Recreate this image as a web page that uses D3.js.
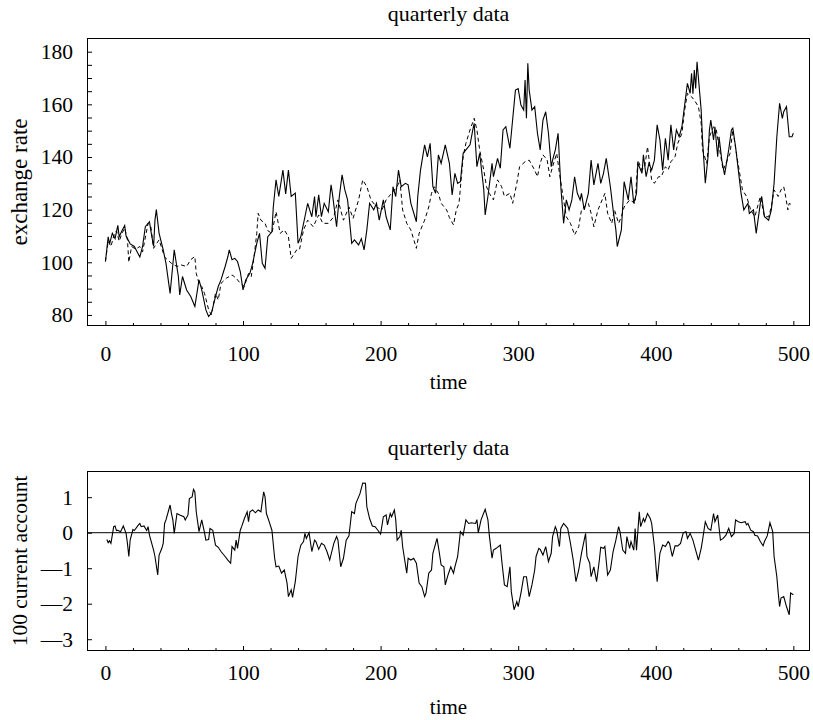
<!DOCTYPE html>
<html><head><meta charset="utf-8">
<script src="https://cdn.jsdelivr.net/npm/d3@7/dist/d3.min.js"></script>
<style>body{margin:0;background:#fff}svg text{font-family:"Liberation Serif","Times New Roman",serif;fill:#000}</style>
</head><body><svg id="c" width="813" height="720"></svg>
<script>
const titles = ["quarterly data", "quarterly data"];
const xLabel = "time";
const yLabels = ["exchange rate", "100 current account"];
const xTicks = [0, 100, 200, 300, 400, 500];
const fxTicks = [80, 100, 120, 140, 160, 180];
const caTicks = [1, 0, -1, -2, -3];
const caTickLabels = ["1", "0", "\u20141", "\u20142", "\u20143"];

// exchange rate, solid line (time, value)
const fxTime = [0,2,3,5,7,9,10,12,14,15,18,21,25,27,29,32,33,35,36,37,39,42,44,47,50,53,54,56,59,62,65,68,70,73,75,77,80,82,84,87,89,90,92,94,96,98,100,102,105,107,110,112,114,116,118,121,122,124,126,129,131,133,135,138,140,142,145,147,150,152,153,155,157,159,162,164,165,168,170,172,174,176,179,181,184,186,188,190,192,195,197,199,202,204,207,209,211,213,215,218,220,222,226,227,229,232,234,236,238,240,242,244,247,250,252,254,256,258,260,262,265,267,268,270,272,275,276,278,281,282,285,287,289,291,294,298,300,302,304,305,306,307,308,310,312,314,316,318,320,322,324,325,327,329,331,333,335,337,339,341,343,345,346,348,351,353,355,358,360,362,364,367,369,371,372,375,377,380,382,384,386,387,390,391,393,395,397,399,401,403,405,407,409,411,413,415,417,419,421,423,425,426,427,428,429,430,433,434,436,438,439,440,442,443,445,446,448,450,453,455,456,458,460,462,464,467,468,471,473,476,477,479,482,484,486,488,490,492,493,495,497,499,500];
const fxActual = [100.3,109.7,107,111,109,114,109.7,112,114,110,107,106,102,106,113.5,115.4,112,106,116,120,111,104.7,99.6,88.2,104.7,94.6,87.6,94.6,89.5,87,83.2,93.3,89.5,81.9,79.4,80.6,87,90.8,93.3,98.4,102.2,104.7,101,101.5,100.3,96.5,89.5,93.3,95.8,99.6,107.2,111,99.6,97.7,109.7,111.6,121,131.3,125,135,126,135,125,126.3,107.2,109.7,117.3,122.4,117.3,125,117.3,125.6,117.3,122.4,119.2,129.4,126,113.5,125,133.2,127.5,123.7,107.2,108.5,106.6,109,104.7,112.3,122.4,119.9,122.4,116,123.7,117.3,112.3,128.7,125,135,128.7,130,129.4,122.4,115.4,125,135,144.6,140,145.2,128.7,126.2,140.8,137.6,144.6,137.6,125.6,133.8,130,130.6,141.4,142.7,144.6,150.3,152.8,136.3,141.4,127.5,118,125,137.6,132.5,139.5,135.7,150.3,151.5,143.3,165.4,166,159.7,157.8,169.2,154.7,175.6,165.4,157.8,159.1,149,142.7,154,157.2,149,136.3,138.8,142.7,149,128.7,114.8,123.7,119.9,123.7,132.5,126.2,123.7,126.2,119.9,126.2,138.8,129.4,137.6,130,133.8,139.5,128.7,119.9,112.3,106,112.3,130.6,123.7,132.5,122.4,126.2,137.6,133.8,140.8,132.5,137.6,135,138.8,152.2,146.5,135,147.1,138.8,152.2,142.7,150.3,147.7,151.5,159.7,168,164.2,171.8,164,173,166,176.2,157.8,146.5,130,140.1,150.3,154,146.5,151.5,140.1,147.7,138.8,133.2,142.7,150.3,151,143.9,135,126.2,119.9,122.4,118.6,119.9,111,122.4,125,117.3,116,119.9,130,147.7,160.4,154.7,157.2,159.1,147.7,147.7,149];

// exchange rate, dashed line (time, value)
const fxDashTime = [0,2,4,6,8,10,12,14,16,17,19,22,25,27,31,33,35,37,39,43,48,52,55,59,62,65,66,68,70,72,75,77,80,82,84,88,92,95,98,101,104,106,108,110,111,113,116,118,121,124,127,130,133,135,139,141,144,147,151,155,158,162,166,169,173,177,180,184,187,190,193,197,201,204,208,212,214,216,219,222,226,228,232,235,237,239,242,244,248,250,253,255,257,260,262,265,268,270,272,275,277,279,282,285,288,290,294,296,299,301,305,308,312,314,316,318,321,323,325,328,330,333,335,338,341,344,346,348,351,353,355,358,360,363,365,368,370,373,375,377,381,385,387,390,392,394,397,399,402,404,407,409,411,414,416,419,421,423,426,428,431,433,434,437,439,442,444,446,449,451,454,456,459,461,463,466,469,472,476,479,482,484,486,489,491,493,494,496,497,499];
const fxDashed = [100.3,108,106,110,112,108,111,113,108.5,100,106,105,106,104,114.8,113.5,105.3,107,108.5,102,99.6,98.4,99,98.4,101,102.2,95.8,92,90.8,88.2,82,80,88.2,85.7,92,94,95.2,94,92,90.8,95.8,94.6,102,111,118.6,116,114.8,112,111,119.2,111,112.3,109.7,101.5,104.7,104.7,112.3,116,113.5,118,114.8,114.8,117.3,123.7,116,121,116.7,123.7,131.3,128.7,123.7,121,119.9,123.7,126.2,128.7,131.3,119.9,114.8,112.3,105.3,111,116,121,126.2,128.7,126.2,122.4,119.9,117,114.2,119.9,122.4,140.1,145.2,150.3,154.7,150.3,142.7,135,128.7,126.2,123.7,131.3,128.7,125,126.2,122.4,130,136.3,138.2,138.8,135,132.5,137.6,140.8,139,132.5,136.3,141.4,133.8,123.7,117.3,114.8,110.4,113.5,119.9,121,122.4,118.6,113.5,119.9,122.4,126.2,118.6,114.8,119.9,114.8,117.3,121,123.7,122.4,138.8,135,136.3,143.9,131.3,130,132.5,132.5,136.3,135,138.2,140.1,145.2,149,157.8,164.2,162.9,161.6,159.1,152.8,142.7,137.6,147.7,151.5,150.3,144,135,137.6,141.4,150.3,140.1,133.8,127.5,125,119.9,117.3,125,117.3,117.3,121,127.5,125,127.5,128.7,126.2,119.9,122.4,121.8];

// 100 x current account (time, value)
const caTime = [1,2,3,4,6,7,8,9,11,13,15,16,17,18,20,21,24,25,26,28,30,31,32,35,36,38,39,41,42,43,44,46,47,48,49,50,52,54,57,58,60,61,63,64,65,66,68,70,72,73,75,76,78,80,82,84,87,89,91,92,94,95,96,98,99,101,103,104,105,107,109,111,113,115,116,117,119,121,123,124,126,128,130,132,133,135,136,138,140,142,144,145,146,148,150,152,153,155,157,159,161,163,166,168,169,171,173,175,177,179,181,182,185,187,189,190,192,194,196,198,200,202,204,205,207,208,210,211,212,214,215,216,219,220,222,224,226,228,230,232,233,235,237,238,241,242,244,246,247,249,251,253,254,256,258,260,262,264,266,269,270,271,273,276,278,279,281,282,284,287,288,290,292,294,295,297,299,300,302,304,306,308,310,312,313,315,316,318,320,322,324,325,327,328,330,331,333,335,336,338,340,342,344,346,347,349,350,352,353,355,357,359,360,362,363,365,367,369,371,373,374,376,378,379,381,382,384,385,386,388,389,391,392,394,396,397,399,401,403,405,407,409,410,412,414,416,418,420,422,423,425,427,429,431,433,434,436,438,440,442,443,445,447,449,451,453,455,457,458,460,462,465,466,467,469,471,472,474,476,478,479,481,483,485,486,488,489,490,491,493,495,497,498,500];
const caValues = [-0.19,-0.28,-0.23,-0.3,0.17,0.19,0.06,0.07,0.03,0.19,-0.02,-0.3,-0.67,-0.2,0.09,0.06,0.22,0.26,0.17,0.19,0.06,0.17,-0.07,-0.49,-0.67,-1.19,-0.63,-0.44,-0.3,0.26,0.36,0.64,0.78,0.54,0.36,-0.02,0.54,0.5,0.45,0.36,0.5,0.96,1.01,1.22,1.15,0.59,0.03,0.36,0,-0.21,-0.19,0.12,0.07,-0.35,-0.41,-0.53,-0.67,-0.77,-0.86,-0.39,-0.49,-0.21,-0.44,0.07,0.17,0.4,0.59,0.31,0.59,0.64,0.56,0.64,0.59,1.15,1.01,0.54,0.31,0.07,-0.72,-0.96,-0.94,-1.14,-1.05,-1.42,-1.8,-1.61,-1.82,-1.38,-0.67,-0.35,-0.25,-0.02,-0.16,0,-0.53,-0.21,-0.25,-0.47,-0.3,-0.35,-0.53,-0.77,-0.3,-0.11,-0.21,-0.96,-0.72,-0.21,-0.09,0.59,0.54,0.82,1.1,1.4,1.39,0.73,0.4,0.19,0.17,0.07,-0.04,0.45,0.5,0.22,0.54,0.45,0.64,0.36,-0.21,-0.11,0.07,-0.39,-1.14,-0.72,-0.77,-0.72,-0.86,-1.42,-1.52,-1.8,-1.7,-1.14,-1.05,-0.58,-0.16,-0.39,-0.91,-0.96,-1.47,-1.19,-0.96,-1.14,-0.96,-0.67,0.03,-0.07,0.36,0.26,0.28,0.26,0.37,0,0.36,0.66,0.36,-0.07,-0.72,-0.49,-0.44,-0.35,-0.77,-1.47,-1.52,-0.96,-1.66,-2.17,-1.94,-2.08,-1.7,-1.24,-1.24,-1.8,-1.47,-1.05,-0.67,-0.44,-0.47,-0.63,-0.39,-0.81,-0.58,-0.11,0.17,0.07,-0.39,0.12,0.26,0.17,0.12,-0.3,-0.77,-1.38,-1.05,-0.58,-0.39,-0.02,-0.67,-0.86,-1.24,-0.96,-1.38,-0.77,-0.41,-0.44,-0.39,-1.19,-1.05,-0.53,-0.21,0.17,0.03,-0.49,-0.58,-0.11,-0.44,-0.25,-0.49,0.12,-0.49,0.59,0.17,0.4,0.31,0.54,0.4,0.26,-0.39,-1.38,-0.58,-0.35,-0.39,-0.25,-0.3,-0.67,-0.37,-0.37,-0.3,0,0.03,-0.16,-0.02,-0.21,-0.49,-0.77,-0.44,-0.21,0.31,0.12,0.07,0.54,0.31,0.5,-0.21,-0.16,-0.07,0.12,-0.11,-0.02,0.36,0.31,0.28,0.31,0.22,0.26,0.07,0.03,-0.07,-0.09,-0.25,-0.37,-0.25,-0.09,0.28,0.03,-0.67,-1.24,-1.7,-2.08,-1.84,-1.8,-2.08,-2.31,-1.7,-1.75];

const svg = d3.select("#c");
const L = 87, R = 810;
const x = d3.scaleLinear().domain([-13.4, 512.1]).range([L, R]);
const P1 = {top: 38, bottom: 326, xPad: 28, titleY: 21, timeY: 389, labFs: 23};
const P2 = {top: 471, bottom: 651, xPad: 22, titleY: 455, timeY: 714, labFs: 21.5};
const y1 = d3.scaleLinear().domain([75.8, 185.2]).range([P1.bottom, P1.top]);
const y2 = d3.scaleLinear().domain([-3.332, 1.738]).range([P2.bottom, P2.top]);

function panel(P, y, yMajor, yMinor, yFmt, title, ylab) {
  const g = svg.append("g");
  const xMinor = d3.range(0, 501, 20);
  const xa = d3.axisBottom(x).tickValues(xMinor).tickSize(-3).tickFormat("");
  const gx = g.append("g").attr("transform", `translate(0,${P.bottom})`).call(xa);
  gx.select(".domain").remove();
  gx.selectAll(".tick line").attr("stroke", "#000")
    .attr("y2", d => d % 100 === 0 ? -5 : -3);
  const xl = d3.axisBottom(x).tickValues(xTicks).tickSize(0).tickPadding(P.xPad);
  const gxl = g.append("g").attr("transform", `translate(0,${P.bottom})`).call(xl);
  gxl.select(".domain").remove();
  gxl.selectAll("text").attr("font-size", 21.5).attr("dy", "0.32em");
  const ya = d3.axisLeft(y).tickValues(yMinor).tickSize(-5).tickFormat("");
  const gy = g.append("g").attr("transform", `translate(${L},0)`).call(ya);
  gy.select(".domain").remove();
  gy.selectAll(".tick line").attr("stroke", "#000");
  const yl = d3.axisLeft(y).tickValues(yMajor).tickSize(0).tickPadding(14).tickFormat(yFmt);
  const gyl = g.append("g").attr("transform", `translate(${L},0)`).call(yl);
  gyl.select(".domain").remove();
  gyl.selectAll("text").attr("font-size", 21.5);
  g.append("rect").attr("x", L + 0.5).attr("y", P.top + 0.5)
    .attr("width", R - L - 1).attr("height", P.bottom - P.top - 1)
    .attr("fill", "none").attr("stroke", "#000").attr("stroke-width", 1);
  g.append("text").attr("x", (L + R) / 2).attr("y", P.titleY).attr("text-anchor", "middle")
    .attr("font-size", 22).text(title);
  g.append("text").attr("x", (L + R) / 2).attr("y", P.timeY).attr("text-anchor", "middle")
    .attr("font-size", 21).text(xLabel);
  g.append("text").attr("transform", `translate(27,${(P.top + P.bottom) / 2}) rotate(-90)`)
    .attr("text-anchor", "middle").attr("font-size", P.labFs).text(ylab);
  return g;
}

const g1 = panel(P1, y1, fxTicks, d3.range(80, 181, 5), d => d, titles[0], yLabels[0]);
const g2 = panel(P2, y2, caTicks, caTicks, (d, i) => caTickLabels[i], titles[1], yLabels[1]);

const lineFx = d3.line().x(d => x(d[0])).y(d => y1(d[1]));
g1.append("path").datum(fxDashTime.map((t, i) => [t, fxDashed[i]]))
  .attr("d", lineFx).attr("fill", "none").attr("stroke", "#000").attr("stroke-width", 1)
  .attr("stroke-dasharray", "4,3");
g1.append("path").datum(fxTime.map((t, i) => [t, fxActual[i]]))
  .attr("d", lineFx).attr("fill", "none").attr("stroke", "#000").attr("stroke-width", 1.1);

g2.append("line").attr("x1", L).attr("x2", R).attr("y1", y2(0)).attr("y2", y2(0))
  .attr("stroke", "#000").attr("stroke-width", 1);
const lineCa = d3.line().x(d => x(d[0])).y(d => y2(d[1]));
g2.append("path").datum(caTime.map((t, i) => [t, caValues[i]]))
  .attr("d", lineCa).attr("fill", "none").attr("stroke", "#000").attr("stroke-width", 1.1);
</script></body></html>
